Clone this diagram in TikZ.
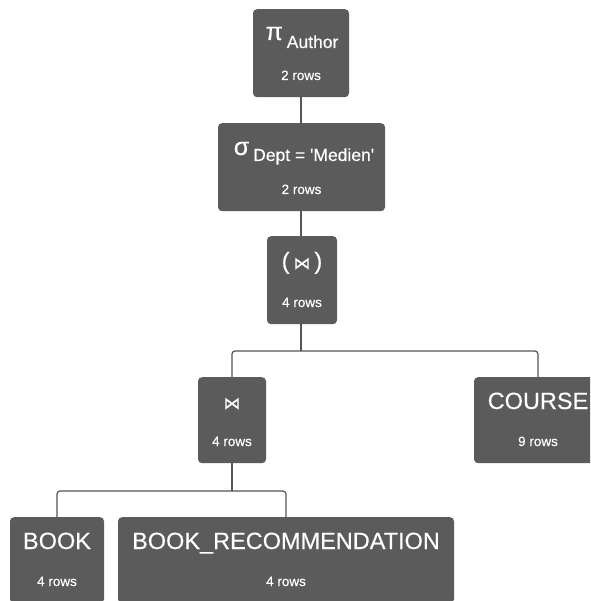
\documentclass[tikz,border=0pt]{standalone}
\usepackage{fontspec}
\setmainfont{Liberation Sans}
\newfontfamily\labelfont[FakeBold=0.3]{Liberation Sans}
\newfontfamily\symfont[FakeBold=0.3]{DejaVu Sans}
\definecolor{boxgray}{HTML}{5B5B5B}
\definecolor{linegray}{HTML}{555555}
\begin{document}
\begin{tikzpicture}[x=1pt,y=-1pt,
  opbox/.style={fill=boxgray,rounded corners=4pt,inner sep=0pt,anchor=north},
  title/.style={text=white,inner sep=0pt,anchor=base,font=\labelfont\fontsize{23.5}{28}\selectfont},
  rowcount/.style={text=white,inner sep=0pt,anchor=base,font=\labelfont\fontsize{13.5}{16}\selectfont},
  conn/.style={draw=linegray,line width=1.2pt,rounded corners=3pt}]
\clip (0,0) rectangle (590,601);
\fill[white] (0,0) rectangle (590,601);

% operator boxes
\node[opbox,minimum width=96pt,minimum height=88pt] (proj) at (301,9) {};
\node[opbox,minimum width=167pt,minimum height=88pt] (sel) at (301.5,123) {};
\node[opbox,minimum width=70pt,minimum height=88pt] (joinA) at (302,236) {};
\node[opbox,minimum width=68pt,minimum height=86pt] (joinB) at (232,377) {};
\node[opbox,minimum width=128pt,minimum height=86pt] (course) at (538,377) {};
\node[opbox,minimum width=94pt,minimum height=86pt] (book) at (57,517) {};
\node[opbox,minimum width=336pt,minimum height=86pt] (rec) at (286,517) {};

% titles
\node[title] (projT) at (302,40) {{\fontsize{25}{28}\selectfont π}\,{\fontsize{17.5}{20}\selectfont\raisebox{-8pt}{Author}}};
\node[title] (selT) at (304,155) {{\fontsize{25}{28}\selectfont σ}\,{\fontsize{17.5}{20}\selectfont\raisebox{-6pt}{Dept = \textquotesingle Medien\textquotesingle}}};
\node[title] (joinAT) at (302,269) {(\,{\symfont\fontsize{17}{20}\selectfont ⋈}\,)};
\node[title] (joinBT) at (232,409) {\symfont\fontsize{17}{20}\selectfont ⋈};
\node[title] (courseT) at (538,409) {COURSE};
\node[title] (bookT) at (57,549) {BOOK};
\node[title] (recT) at (286,549) {BOOK\_RECOMMENDATION};

% row counts
\node[rowcount] (projR) at (301,80) {2 rows};
\node[rowcount] (selR) at (301.5,194) {2 rows};
\node[rowcount] (joinAR) at (302,307) {4 rows};
\node[rowcount] (joinBR) at (232,446) {4 rows};
\node[rowcount] (courseR) at (538,446) {9 rows};
\node[rowcount] (bookR) at (57,586) {4 rows};
\node[rowcount] (recR) at (286,586) {4 rows};

% connectors
\coordinate (fork1) at (301,351);
\coordinate (fork2) at (232,491);
\draw[conn] (proj.south -| 301,0) -- (sel.north -| 301,0);
\draw[conn] (sel.south -| 301,0) -- (joinA.north -| 301,0);
\draw[conn] (joinA.south -| 301,0) -- (fork1);
\draw[conn] (fork1) -| (joinB.north);
\draw[conn] (fork1) -| (course.north);
\draw[conn] (joinB.south) -- (fork2);
\draw[conn] (fork2) -| (book.north);
\draw[conn] (fork2) -| (rec.north);
\end{tikzpicture}
\end{document}
